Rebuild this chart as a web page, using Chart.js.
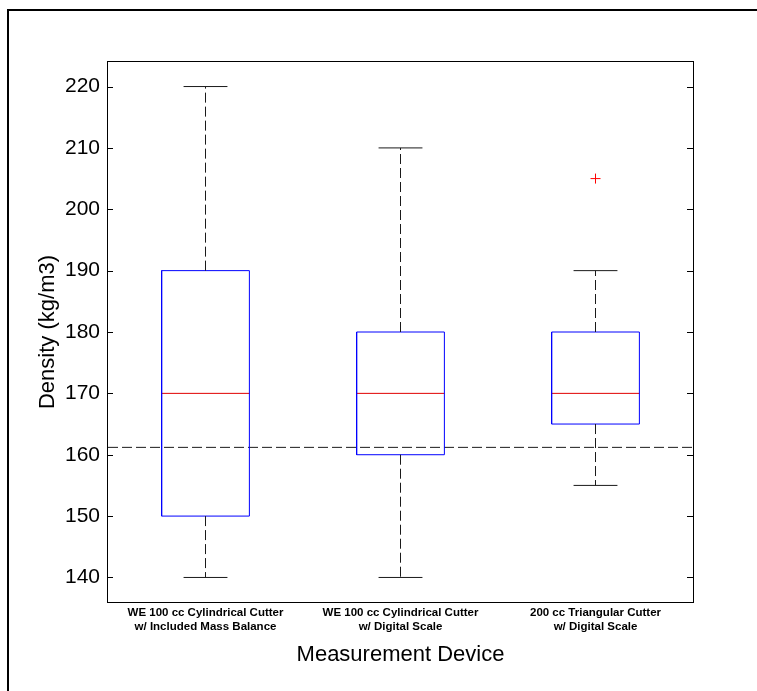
<!DOCTYPE html>
<html>
<head>
<meta charset="utf-8">
<script src="https://cdn.jsdelivr.net/npm/chart.js@4.4.1/dist/chart.umd.min.js"></script>
<style>
  html, body { margin: 0; padding: 0; background: #fff; }
  #wrap { width: 757px; height: 691px; }
</style>
</head>
<body>
<div id="wrap"><canvas id="chart" width="757" height="691"></canvas></div>
<script>
// box plot summary values
const devices = [
  ["WE 100 cc Cylindrical Cutter", "w/ Included Mass Balance"],
  ["WE 100 cc Cylindrical Cutter", "w/ Digital Scale"],
  ["200 cc Triangular Cutter", "w/ Digital Scale"]
];
const whiskerLow = [140, 140, 155];
const quart1 = [150, 160, 165];
const medians = [170, 170, 170];
const quart3 = [190, 180, 180];
const whiskerHigh = [220, 210, 190];
const outliers = [{ device: 3, value: 205 }];
const referenceDensity = 161.2;
const yTicks = [140, 150, 160, 170, 180, 190, 200, 210, 220];

const FONT = '"Liberation Sans", Arial, Helvetica, sans-serif';
const BOX_HALF = 0.225;
const CAP_HALF = 0.1125;
const DASH = [10, 4];

function seg(x0, y0, x1, y1) {
  return [{ x: x0, y: y0 }, { x: x1, y: y1 }];
}

function lineSet(data, color, dash) {
  return {
    data,
    showLine: true,
    borderColor: color,
    borderWidth: 1,
    borderDash: dash || [],
    pointRadius: 0,
    pointHoverRadius: 0,
    fill: false,
    tension: 0
  };
}

const datasets = [];
devices.forEach((d, i) => {
  const c = i + 1;
  // whiskers
  datasets.push(lineSet(seg(c, quart3[i], c, whiskerHigh[i]), "#1a1a1a", DASH));
  datasets.push(lineSet(seg(c, quart1[i], c, whiskerLow[i]), "#1a1a1a", DASH));
  datasets.push(lineSet(seg(c - CAP_HALF, whiskerHigh[i], c + CAP_HALF, whiskerHigh[i]), "#1a1a1a"));
  datasets.push(lineSet(seg(c - CAP_HALF, whiskerLow[i], c + CAP_HALF, whiskerLow[i]), "#1a1a1a"));
  // box
  datasets.push(lineSet([
    { x: c - BOX_HALF, y: quart1[i] },
    { x: c + BOX_HALF, y: quart1[i] },
    { x: c + BOX_HALF, y: quart3[i] },
    { x: c - BOX_HALF, y: quart3[i] },
    { x: c - BOX_HALF, y: quart1[i] }
  ], "#0000ff"));
  // median
  datasets.push(lineSet(seg(c - BOX_HALF, medians[i], c + BOX_HALF, medians[i]), "#e00000"));
});

// reference line
datasets.push(lineSet(seg(0.5, referenceDensity, 3.5, referenceDensity), "#1a1a1a", DASH));

// outliers
datasets.push({
  data: outliers.map((o) => ({ x: o.device, y: o.value })),
  showLine: false,
  pointStyle: "cross",
  pointRadius: 5,
  pointHoverRadius: 5,
  borderColor: "#ff0000",
  borderWidth: 1
});

const framePlugin = {
  id: "frame",
  beforeDraw(chart) {
    const ctx = chart.ctx;
    ctx.save();
    ctx.fillStyle = "#fff";
    ctx.fillRect(0, 0, chart.width, chart.height);
    ctx.strokeStyle = "#000";
    ctx.lineWidth = 2;
    ctx.strokeRect(8, 10, 900, 900);
    ctx.restore();
  },
  afterDatasetsDraw(chart) {
    const { ctx, chartArea: a, scales } = chart;
    ctx.save();
    ctx.strokeStyle = "#000";
    ctx.lineWidth = 1;
    ctx.strokeRect(Math.round(a.left) - 0.5, Math.round(a.top) - 0.5, Math.round(a.right - a.left) + 1, Math.round(a.bottom - a.top) + 1);
    ctx.beginPath();
    scales.y.ticks.forEach((t) => {
      const y = Math.round(scales.y.getPixelForValue(t.value)) + 0.5;
      ctx.moveTo(a.left, y);
      ctx.lineTo(a.left + 5, y);
      ctx.moveTo(a.right, y);
      ctx.lineTo(a.right - 6, y);
    });
    ctx.stroke();
    ctx.restore();
  }
};

new Chart(document.getElementById("chart"), {
  type: "scatter",
  data: { datasets },
  plugins: [framePlugin],
  options: {
    responsive: false,
    animation: false,
    events: [],
    layout: { padding: { top: 62, right: 64, left: 0, bottom: 0 } },
    plugins: { legend: { display: false }, tooltip: { enabled: false } },
    scales: {
      x: {
        type: "linear",
        min: 0.5,
        max: 3.5,
        grid: { display: false, drawTicks: false },
        border: { display: false },
        afterBuildTicks: (scale) => { scale.ticks = devices.map((d, i) => ({ value: i + 1 })); },
        afterFit: (scale) => { scale.height = 89; },
        ticks: {
          color: "#000",
          padding: 4,
          maxRotation: 0,
          autoSkip: false,
          font: { family: FONT, size: 11.5, weight: "bold", lineHeight: 1.2 },
          callback: (v) => devices[Math.round(v) - 1] || ""
        },
        title: {
          display: true,
          text: "Measurement Device",
          color: "#000",
          font: { family: FONT, size: 22 },
          padding: { top: 0, bottom: 23 }
        }
      },
      y: {
        min: 136,
        max: 224,
        grid: { display: false, drawTicks: false },
        border: { display: false },
        afterBuildTicks: (scale) => { scale.ticks = yTicks.map((v) => ({ value: v })); },
        afterFit: (scale) => { scale.width = 108; },
        ticks: {
          color: "#000",
          padding: 8,
          font: { family: FONT, size: 21 }
        },
        title: {
          display: true,
          text: "Density (kg/m3)",
          color: "#000",
          font: { family: FONT, size: 22 },
          padding: { top: 35, bottom: 0 }
        }
      }
    }
  }
});
</script>
</body>
</html>
